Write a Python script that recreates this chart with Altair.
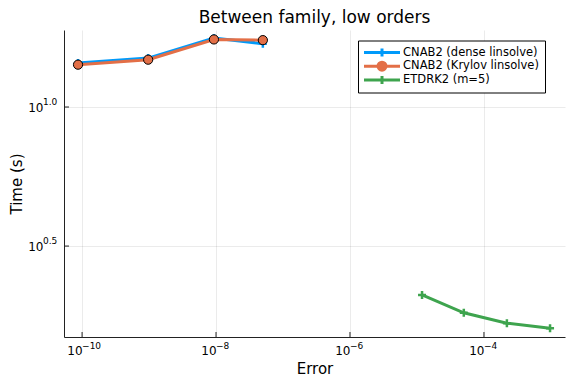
import altair as alt
import pandas as pd

# ---- data ----
series_names = ["CNAB2 (dense linsolve)", "CNAB2 (Krylov linsolve)", "ETDRK2 (m=5)"]
series_colors = ["#009AFA", "#E36F47", "#3EA44E"]

err_dense = [8.7e-11, 9.7e-10, 9.3e-9, 5.0e-8]
time_dense = [14.4, 15.0, 17.7, 16.9]
err_krylov = [8.7e-11, 9.7e-10, 9.3e-9, 5.0e-8]
time_krylov = [14.2, 14.8, 17.5, 17.4]
err_etd = [1.19e-5, 5.0e-5, 2.2e-4, 9.7e-4]
time_etd = [2.11, 1.82, 1.67, 1.60]

x_tick_vals = [1e-10, 1e-8, 1e-6, 1e-4]
x_tick_exps = ["−10", "−8", "−6", "−4"]
y_tick_vals = [10 ** 0.5, 10 ** 1.0]
y_tick_exps = ["0.5", "1.0"]

x_domain = [10 ** -10.27, 10 ** -2.79]
y_domain = [10 ** 0.173, 10 ** 1.277]

W, H = 501, 307
FONT = "DejaVu Sans"

rows = []
for name, xs, ys in [(series_names[0], err_dense, time_dense),
                     (series_names[1], err_krylov, time_krylov),
                     (series_names[2], err_etd, time_etd)]:
    for i, (a, b) in enumerate(zip(xs, ys)):
        rows.append({"series": name, "err": a, "t": b, "order": i})
df = pd.DataFrame(rows)

xscale = alt.Scale(type="log", domain=x_domain, nice=False)
yscale = alt.Scale(type="log", domain=y_domain, nice=False)
cscale = alt.Scale(domain=series_names, range=series_colors)

common_axis = dict(tickSize=0, labelFontSize=12, titleFontSize=15,
                   grid=True, gridColor="#000000", gridOpacity=0.08,
                   domainColor="#222222", labelColor="#000000",
                   titleColor="#000000", titleFontWeight="normal",
                   labelFont=FONT, titleFont=FONT, labelExpr="'10'")

X = alt.X("err:Q", scale=xscale,
          axis=alt.Axis(title="Error", values=x_tick_vals, labelAlign="right",
                        labelPadding=8, titlePadding=5, **common_axis))
Y = alt.Y("t:Q", scale=yscale,
          axis=alt.Axis(title="Time (s)", values=y_tick_vals,
                        labelPadding=21, titlePadding=3, **common_axis))

legend = alt.Legend(title=None, orient="none", legendX=294, legendY=10.5,
                    symbolSize=100, symbolStrokeWidth=3, symbolOpacity=1,
                    labelFontSize=11.5, labelFont=FONT, labelColor="#000000",
                    labelExpr="datum.label + '   '",
                    labelOffset=14.5, symbolOffset=12, rowPadding=0.7, clipHeight=13,
                    padding=5.5, strokeColor="#000000", fillColor="#ffffff",
                    cornerRadius=0, labelLimit=300)

base = alt.Chart(df)

lines = base.mark_line(strokeWidth=3).encode(
    x=X, y=Y,
    color=alt.Color("series:N", scale=cscale, legend=legend),
    order="order:Q",
    detail="series:N",
)

plus_markers = base.transform_filter(
    alt.datum.series != series_names[1]
).mark_point(shape="M-1,0H1M0,-1V1", size=64, strokeWidth=2.5, filled=False, opacity=1).encode(
    x="err:Q", y="t:Q",
    color=alt.Color("series:N", scale=cscale),
)

circle_markers = base.transform_filter(
    alt.datum.series == series_names[1]
).mark_point(shape="circle", size=85, fill=series_colors[1], stroke="#000000",
             strokeWidth=1, filled=True, opacity=1).encode(
    x="err:Q", y="t:Q",
)

# inward tick marks and superscript exponents of tick labels
xt = pd.DataFrame({"v": x_tick_vals, "e": x_tick_exps})
yt = pd.DataFrame({"v": y_tick_vals, "e": y_tick_exps})
xticks = alt.Chart(xt).mark_rule(color="#222222", strokeWidth=1).encode(
    x=alt.X("v:Q", scale=xscale), y=alt.value(H - 5), y2=alt.value(H))
yticks = alt.Chart(yt).mark_rule(color="#222222", strokeWidth=1).encode(
    y=alt.Y("v:Q", scale=yscale), x=alt.value(0), x2=alt.value(5))
xexp = alt.Chart(xt).mark_text(align="left", baseline="top", fontSize=9, font=FONT,
                               color="#000000", clip=False).encode(
    x=alt.X("v:Q", scale=xscale), y=alt.value(H + 5), text="e:N")
yexp = alt.Chart(yt).mark_text(align="left", baseline="middle", fontSize=9, font=FONT,
                               color="#000000", clip=False, dy=-5).encode(
    y=alt.Y("v:Q", scale=yscale), x=alt.value(-21), text="e:N")

# invisible copies of the points carrying the legend symbol shapes (line + marker)
leg_shapes = [
    "M-3.6,0H3.6M0,-0.8V0.8",
    "M-3.6,0H3.6M-0.8,0C-0.8,-0.442 -0.442,-0.8 0,-0.8C0.442,-0.8 0.8,-0.442 0.8,0"
    "C0.8,0.442 0.442,0.8 0,0.8C-0.442,0.8 -0.8,0.442 -0.8,0Z",
    "M-3.6,0H3.6M0,-0.8V0.8",
]
legend_layer = base.mark_point(opacity=0).encode(
    x="err:Q", y="t:Q",
    shape=alt.Shape("series:N", scale=alt.Scale(domain=series_names, range=leg_shapes)),
    fill=alt.Fill("series:N", scale=cscale),
)

chart = alt.layer(lines, plus_markers, circle_markers, xticks, yticks, xexp, yexp,
                  legend_layer).properties(
    width=W, height=H,
    title=alt.Title("Between family, low orders", fontSize=17, font=FONT,
                    fontWeight="normal", color="#000000", anchor="middle", offset=2),
    autosize=alt.AutoSizeParams(type="none"),
    padding={"left": 56, "top": 22, "right": 3, "bottom": 39},
).configure_view(stroke=None)

chart.save("out.html", embed_options={"renderer": "svg", "actions": False})
